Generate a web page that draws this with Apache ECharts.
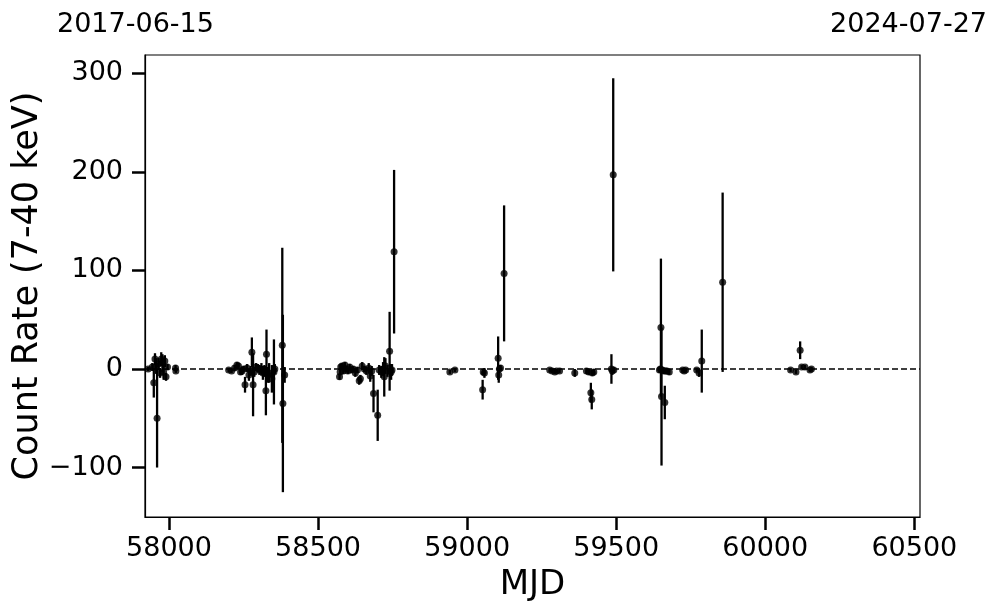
<!DOCTYPE html>
<html>
<head>
<meta charset="utf-8">
<script src="https://cdn.jsdelivr.net/npm/echarts@6/dist/echarts.min.js"></script>
<style>
html,body{margin:0;padding:0;background:#fff;}
#chart{width:997px;height:613px;}
</style>
</head>
<body>
<div id="chart"></div>
<script>
// Observation times (MJD)
const mjd = [
  57930,57944,57949,57953,57957,57960,57965,57970,57974,57978,57982,57986,57990,57995,58022,58023,
  58200,58210,58220,58228,58233,58240,58245,58250,58255,58262,58268,58274,58278,58282,58286,58292,58298,58303,58310,58315,58320,58325,58327,58332,58336,58345,58352,58355,58380,58382,58388,
  58572,58574,58576,58580,58585,58590,58595,58600,58606,58612,58618,58625,58632,58638,58642,58648,58655,58662,58670,58675,58680,58686,58700,58705,58712,58718,58722,58726,58733,58740,58745,58748,58755,
  58942,58959,
  59052,59054,59058,59104,59106,59108,59112,59124,
  59277,59285,59294,59300,59310,59361,59400,59408,59415,59418,59420,59425,59484,59487,59490,59492,
  59645,59648,59650,59652,59655,59660,59663,59666,59670,59678,59723,59728,59733,59770,59778,59787,59857,
  60085,60103,60117,60122,60133,60150,60155
];
// Count rate (7-40 keV)
const rate = [
  0,2,-14,10,3,-50,5,-4,10,6,-3,8,-8,2,1,-2,
  -1,-2,1,4,3,-3,-2,0,-16,1,-6,-2,17,-16,-3,2,1,-1,0,-4,-2,-22,15,-6,-4,-10,-3,0,24,-35,-6,
  -8,-3,2,3,-2,4,0,-2,2,-1,0,-4,-1,-12,-10,3,0,-2,1,-7,-2,-25,-47,-1,-3,0,-8,3,-2,18,-3,-1,119,
  -3,-1,
  -21,-3,-4,11,-6,0,1,97,
  -1,-2,-3,-2,-2,-4,-2,-3,-24,-31,-4,-3,0,-2,197,-1,
  -1,0,42,-28,-1,-2,-34,-2,-2,-3,-1,-2,-1,-1,-4,8,88,
  -1,-3,19,2,2,-1,0
];
// 1-sigma errors
const err = [
  2,4,15,6,8,50,6,5,7,9,8,6,4,3,3,2,
  2,2,3,3,3,3,4,3,8,4,6,5,15,32,5,4,4,5,6,7,6,25,25,8,10,14,33,5,99,90,8,
  3,3,3,3,3,3,3,3,3,3,3,4,3,4,4,4,3,4,5,6,5,19,26,5,6,7,20,8,6,40,8,6,83,
  2,2,
  10,3,5,22,8,4,3,69,
  2,2,2,2,2,4,3,3,10,10,3,3,15,4,98,3,
  3,3,70,70,3,3,17,3,3,3,2,2,2,2,4,32,91,
  2,2,9,2,2,2,2
];
const xTicks = [58000,58500,59000,59500,60000,60500];
const yTicks = [-100,0,100,200,300];
const topLeftLabel = '2017-06-15';
const topRightLabel = '2024-07-27';

const FONT = 'DejaVu Sans';
const pts = mjd.map((m,i)=>[m, rate[i]]);
const bars = mjd.map((m,i)=>[m, rate[i]-err[i], rate[i]+err[i]]);

const chart = echarts.init(document.getElementById('chart'), null, {renderer:'canvas'});
chart.setOption({
  animation:false,
  backgroundColor:'#fff',
  grid:{left:145,right:77,top:55,bottom:96,show:true,borderColor:'#000',borderWidth:1.2,backgroundColor:'transparent',
        containLabel:false,outerBoundsMode:'none'},
  graphic:[
    {type:'text',left:57,top:11,style:{text:topLeftLabel,font:'27px "DejaVu Sans"',fill:'#000'}},
    {type:'text',right:10,top:11,style:{text:topRightLabel,font:'27px "DejaVu Sans"',fill:'#000'}}
  ],
  xAxis:{
    type:'value',min:57919.5,max:60519,
    name:'MJD',nameLocation:'middle',nameGap:51,nameMoveOverlap:false,
    nameTextStyle:{fontFamily:FONT,fontSize:34,color:'#000'},
    axisLine:{show:true,onZero:false,lineStyle:{color:'#000',width:1.2}},
    axisTick:{show:true,customValues:xTicks,length:13,lineStyle:{color:'#000',width:2.5}},
    axisLabel:{customValues:xTicks,fontFamily:FONT,fontSize:27,color:'#000',margin:18,
      formatter:v=>String(v)},
    splitLine:{show:false}
  },
  yAxis:{
    type:'value',min:-150.2,max:318.6,
    name:'Count Rate (7-40 keV)',nameLocation:'middle',nameGap:100,nameMoveOverlap:false,
    nameTextStyle:{fontFamily:FONT,fontSize:35,color:'#000'},
    axisLine:{show:true,onZero:false,lineStyle:{color:'#000',width:1.2}},
    axisTick:{show:true,customValues:yTicks,length:13,lineStyle:{color:'#000',width:2.5}},
    axisLabel:{customValues:yTicks,fontFamily:FONT,fontSize:27,color:'#000',margin:22,
      formatter:v=>String(v).replace('-','\u2212')},
    splitLine:{show:false}
  },
  series:[
    {
      type:'custom',
      data:bars,
      encode:{x:0,y:[1,2]},
      renderItem:function(params,api){
        const p1 = api.coord([api.value(0), api.value(1)]);
        const p2 = api.coord([api.value(0), api.value(2)]);
        return {type:'line',shape:{x1:p1[0],y1:p1[1],x2:p2[0],y2:p2[1]},style:{stroke:'#000',lineWidth:2.3}};
      },
      z:2
    },
    {
      type:'scatter',
      data:pts,
      symbol:'circle',symbolSize:7,
      itemStyle:{color:'#000'},
      z:3,
      markLine:{
        silent:true,symbol:['none','none'],label:{show:false},
        lineStyle:{color:'#000',type:[6,3],width:1.5},
        data:[{yAxis:0}]
      }
    }
  ]
});
</script>
</body>
</html>
